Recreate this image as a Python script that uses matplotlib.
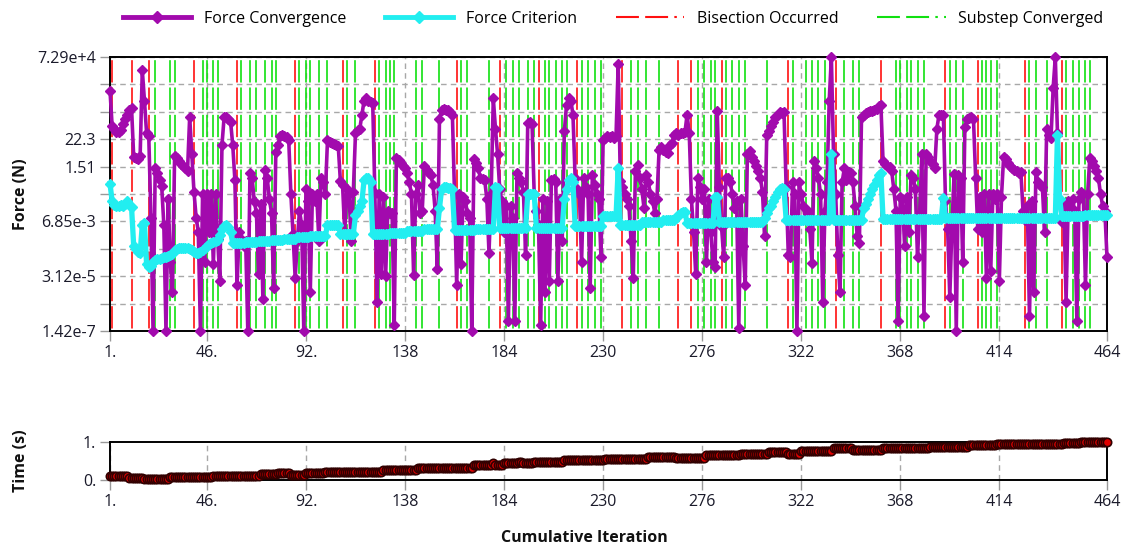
import numpy as np
import matplotlib
matplotlib.use("Agg")
import matplotlib.pyplot as plt
from matplotlib.lines import Line2D

# ---------------- data ----------------
x_ticks = [1, 46, 92, 138, 184, 230, 276, 322, 368, 414, 464]
x_tick_labels = ["1.", "46.", "92.", "138", "184", "230", "276", "322", "368", "414", "464"]
force_top = 7.29e4
force_bottom = 1.42e-7
force_tick_labels = ["7.29e+4", "", "", "22.3", "1.51", "", "6.85e-3", "", "3.12e-5", "", "1.42e-7"]
time_ticks = [0, 1]
time_tick_labels = ["0.", "1."]

# log10 of the force convergence value at each cumulative iteration (1..464)
force_convergence_log = [
    3.43, 1.9, 1.8, 1.65, 1.65, 1.75, 2.0, 2.2, 2.4, 2.6,
    2.7, 0.6, 0.55, 0.5, 0.65, 4.3, 3.0, 1.6, 1.5, -2.0,
    -6.85, 0.1, -0.1, -0.4, -0.65, -2.3, -6.85, -1.2, -3.9, -5.2,
    0.65, 0.55, 0.4, 0.3, 0.2, 0.1, 0.0, 2.3, 0.7, -0.9,
    -2.0, -2.6, -6.85, -1.0, -3.9, -1.0, -2.6, -1.0, -4.0, -1.0,
    -2.9, -4.7, 1.1, 2.3, 2.3, 2.2, 2.1, 1.1, -0.4, -4.9,
    -2.6, -2.9, -3.2, -3.0, -6.85, -0.1, -0.3, -1.3, -1.8, -4.4,
    -1.4, -5.5, 0.05, -0.3, -1.2, -1.8, -5.0, 0.8, 1.1, 1.5,
    1.55, 1.5, 1.45, 1.3, -1.0, -2.7, -4.6, -3.0, -1.7, -2.3,
    -6.85, -0.8, -1.3, -5.2, -1.0, -1.3, -1.0, -3.0, -0.3, -0.5,
    -1.0, 1.3, 1.25, 1.2, 1.15, 1.1, 1.05, -0.45, -0.6, -2.6,
    -0.8, -1.0, -3.0, -0.9, 1.6, 1.75, 1.8, 2.4, 3.0, 3.1,
    3.0, 2.95, 2.9, -0.95, -5.6, -1.0, -4.4, -1.1, -4.5, -1.7,
    -1.8, -1.8, -6.6, 0.55, 0.45, 0.35, 0.2, 0.1, -0.1, -0.5,
    -1.0, -4.45, -1.0, -0.6, -1.8, -1.7, 0.2, 0.05, -0.1, -0.2,
    -0.6, -1.7, -4.2, 2.2, 2.6, 2.65, 2.6, 2.6, 2.5, 2.4,
    -1.0, -4.9, -1.0, -4.0, -1.1, -1.3, -1.8, -2.0, -6.85, 0.5,
    0.35, 0.1, -0.3, -0.35, -0.4, -1.2, -3.5, -1.0, 3.1, 1.8,
    0.7, -0.8, -1.3, -2.6, -1.5, -6.4, -1.5, -2.0, -6.4, -0.1,
    -0.3, -0.5, -0.9, -3.6, 2.05, 2.1, 2.0, -1.0, -1.7, -2.3,
    -6.6, -1.2, -5.2, -1.3, -4.7, -0.4, -0.35, -0.5, -4.7, -1.2,
    -3.0, 1.7, 2.8, 3.1, 3.0, 2.4, -0.3, -0.8, -1.0, -3.9,
    -0.3, -0.7, -1.0, -5.0, -0.2, -0.6, -1.0, -1.2, -3.7, 1.3,
    1.4, 1.5, 1.45, 1.5, 1.4, 1.5, 4.55, -0.45, -0.7, -1.0,
    -1.2, -1.5, -3.0, -4.6, 0.0, 0.26, -0.3, -0.8, -1.6, -0.2,
    -0.5, -1.0, -1.3, -1.8, -1.2, 0.9, 1.0, 0.9, 0.8, 0.75,
    1.1, 1.2, 1.55, 1.6, 1.55, 1.6, 1.6, 1.65, 2.4, 1.6,
    -1.2, -2.6, -4.4, -0.3, -0.7, -1.2, -0.8, -3.9, -1.2, -2.6,
    -3.9, -4.1, 2.55, -0.7, -2.4, -3.7, -0.3, -0.3, -0.5, -1.0,
    -1.6, -1.3, -6.7, -1.2, -3.2, -4.9, 0.7, 0.85, 0.6, 0.4,
    0.2, 0.0, -0.3, -0.9, -2.8, 1.55, 1.7, 1.9, 2.1, 2.3,
    2.4, 2.5, 2.45, 2.5, -0.7, -3.6, -3.7, -0.5, -1.0, -6.85,
    -0.5, -1.0, -1.5, -2.1, -1.7, -2.5, -3.95, 0.4, 0.1, -0.3,
    -1.0, -5.6, -1.7, -0.5, 3.0, 4.86, 0.7, -1.0, -3.6, -5.2,
    -0.5, 0.1, -0.4, -0.05, -0.1, -0.5, -1.5, -2.8, -3.1, 2.3,
    2.4, 2.45, 2.5, 2.55, 2.55, 2.6, 2.65, 2.75, 2.8, 0.4,
    0.3, 0.2, 0.15, 0.0, -0.8, -1.7, -6.4, -1.1, -1.2, -3.2,
    -1.1, -2.6, -0.2, -0.3, -0.8, -3.7, -1.8, 0.7, -6.2, 0.7,
    0.6, 0.4, 0.3, 0.1, 1.8, 2.4, 2.4, 2.4, -1.3, -2.5,
    -5.4, -2.3, -0.15, -6.85, -0.2, -0.3, -3.9, 1.85, 2.2, 2.25,
    2.3, 2.2, -0.3, -2.5, -1.1, -2.6, -1.0, -4.6, -1.0, -4.3,
    -1.0, -1.2, -1.0, -4.7, -1.1, 0.6, 0.5, 0.35, 0.2, 0.1,
    0.05, 0.0, -0.1, -0.05, -1.7, -2.1, -1.5, -6.2, -1.3, -5.2,
    -0.05, -0.5, -0.6, -0.7, -2.6, 1.8, 1.55, 1.4, 3.55, 4.86,
    1.6, -1.3, -2.2, -1.5, -5.6, -1.3, -1.8, -1.2, -1.7, -6.4,
    -1.2, -0.9, -1.0, -4.9, -1.0, 0.55, 0.4, 0.2, 0.0, -0.3,
    -1.0, -1.5, -1.7, -3.7,
]

# log10 of the force criterion at each cumulative iteration
force_criterion_log = (
    [-0.55]
    + [-1.3, -1.45, -1.5, -1.5, -1.45, -1.5, -1.4, -1.3, -1.45, -1.55]
    + [-3.2, -3.35, -3.45, -3.5, -2.3, -2.25]
    + [-4.0, -4.1, -4.05, -3.9]
    + [-3.8, -3.78, -3.75, -3.72, -3.7, -3.68, -3.65, -3.6, -3.55]
    + [-3.4, -3.35, -3.3, -3.3, -3.28, -3.3, -3.32, -3.35, -3.4, -3.45, -3.5, -3.5]
    + [-3.45, -3.4, -3.3, -3.2, -3.15, -3.1, -3.05, -3.0, -2.95]
    + [-2.75, -2.5, -2.35, -2.3, -2.4, -2.6]
    + [-3.1] * 6 + [-3.05] * 6 + [-3.0] * 6 + [-2.95] * 6 + [-2.9] * 6 + [-2.85] * 6
    + [-2.8] * 8
    + [-2.3] * 6
    + [-2.7] * 7
    + [-1.9, -1.7, -1.5, -1.3]
    + [-0.4, -0.3, -0.3, -0.5]
    + [-2.72] * 8 + [-2.65] * 8 + [-2.58] * 8 + [-2.5] * 7
    + [-1.6, -0.8, -0.7, -0.7, -0.72, -0.75, -0.8]
    + [-2.52] * 10 + [-2.48] * 9
    + [-0.7, -0.75]
    + [-2.45] * 13
    + [-1.0] * 4
    + [-2.45] * 13
    + [-1.2, -0.8, -0.4, -0.3, -0.5]
    + [-2.35] * 13
    + [-1.95] * 7
    + [0.12]
    + [-2.3] * 10 + [-2.2] * 10 + [-2.1] * 6 + [-2.0, -1.9, -1.8, -1.75, -1.75]
    + [-2.25] * 13
    + [-1.1, -1.1]
    + [-2.2] * 21
    + [-2.0, -1.8, -1.6, -1.5, -1.3, -1.1, -0.9, -0.8, -0.75, -0.8]
    + [-2.1] * 21
    + [0.7]
    + [-2.1] * 14
    + [-1.6, -1.4, -1.2, -1.0, -0.8, -0.6, -0.4, -0.2, -0.1]
    + [-2.05] * 28
    + [-1.17]
    + [-2.0] * 52
    + [1.55]
    + [-1.2]
    + [-1.95] * 11 + [-1.9] * 11
)

# time (s): (value, number of consecutive iterations at that value)
time_runs = [
    (0.10, 9), (0.045, 7), (0.015, 12), (0.07, 20), (0.10, 22), (0.16, 8),
    (0.19, 6), (0.13, 7), (0.19, 9), (0.22, 27), (0.26, 16), (0.32, 26),
    (0.39, 9), (0.43, 1), (0.39, 4), (0.45, 7), (0.48, 2), (0.43, 5),
    (0.48, 14), (0.51, 19), (0.55, 20), (0.61, 13), (0.58, 14), (0.64, 16),
    (0.68, 13), (0.72, 9), (0.68, 6), (0.75, 15), (0.82, 9), (0.78, 14),
    (0.82, 22), (0.86, 18), (0.92, 13), (0.93, 31), (0.96, 8), (1.0, 13),
]

bisection_iters = [2, 11, 19, 40, 60, 87, 109, 124, 162, 182, 200, 218, 239,
                   265, 271, 285, 316, 338, 359, 389, 404, 426, 443]
substep_iters = [22, 29, 31, 44, 46, 49, 51, 62, 66, 69, 73, 76, 78, 89, 92,
                 94, 98, 102, 111, 115, 126, 129, 131, 133, 143, 146, 154, 164,
                 167, 177, 185, 188, 191, 195, 198, 203, 205, 208, 211, 213,
                 220, 223, 226, 229, 243, 246, 250, 256, 274, 277, 280, 282,
                 287, 290, 293, 296, 306, 318, 324, 327, 330, 333, 342, 346,
                 349, 366, 368, 371, 373, 376, 379, 391, 394, 397, 406, 408,
                 410, 413, 428, 431, 436, 445, 448, 451, 454, 456]

# ---------------- style ----------------
plt.rcParams['font.family'] = ['Open Sans', 'DejaVu Sans']
PURPLE = '#a20aad'
CYAN = '#22eef0'
RED = '#ff1010'
GREEN = '#10e010'
GRID = '#a8a8a8'
TXT = '#1a1a2a'
vdash_plot = (14.9, (13.4, 3.0))
vdash_legend = (0, (11, 3.0, 11, 3.0, 1.2, 3.0))

fig = plt.figure(figsize=(11.25, 5.5), dpi=100)
W, H = 1125, 550
ax = fig.add_axes([110 / W, 1 - 331 / H, 997 / W, 274 / H])
axt = fig.add_axes([110 / W, 1 - 480 / H, 997 / W, 38.5 / H])

conv = 10.0 ** np.array(force_convergence_log)
crit = 10.0 ** np.array(force_criterion_log)
it_conv = np.arange(1, len(conv) + 1)
it_crit = np.arange(1, len(crit) + 1)

time_vals = []
for v, n in time_runs:
    time_vals += [v] * n
time_vals = np.array(time_vals)
it_time = np.arange(1, len(time_vals) + 1)

# main axes
ax.set_yscale('log')
ax.set_xlim(1, 464)
ax.set_ylim(force_bottom, force_top)
yt = np.logspace(np.log10(force_top), np.log10(force_bottom), len(force_tick_labels))
ax.set_yticks(yt)
ax.set_yticklabels(force_tick_labels)
ax.yaxis.set_minor_locator(matplotlib.ticker.NullLocator())
ax.set_xticks(x_ticks)
ax.set_xticklabels(x_tick_labels)

for xv in bisection_iters:
    ax.axvline(xv, color=RED, lw=1.2, linestyle=vdash_plot, zorder=1.6)
for xv in substep_iters:
    ax.axvline(xv, color=GREEN, lw=1.2, linestyle=vdash_plot, zorder=1.5)

ax.plot(it_conv, conv, color=PURPLE, lw=2.6, marker='D', ms=4.6, mec=PURPLE,
        zorder=3, clip_on=False)
ax.plot(it_crit, crit, color=CYAN, lw=3.8, marker='D', ms=5, mec=CYAN,
        zorder=4, clip_on=False)

ax.grid(True, which='major', color=GRID, linestyle=(0, (4, 3)), lw=1)
ax.set_axisbelow(True)

# time axes
axt.set_xlim(1, 464)
axt.set_ylim(0, 1)
axt.set_yticks(time_ticks)
axt.set_yticklabels(time_tick_labels)
axt.set_xticks(x_ticks)
axt.set_xticklabels(x_tick_labels)
axt.grid(True, axis='x', color=GRID, linestyle=(0, (4, 3)), lw=1)
axt.set_axisbelow(True)
axt.plot(it_time, time_vals, color='#2a0000', lw=2, marker='o', ms=6,
         mfc='#e00000', mec='#300000', mew=1.2, zorder=3, clip_on=False)

for a in (ax, axt):
    for s in a.spines.values():
        s.set_color('black')
        s.set_linewidth(1.4)
    a.tick_params(axis='both', which='major', color='#999999', length=7,
                  width=1, labelsize=11.5, labelcolor=TXT, pad=3)

ax.set_ylabel('Force (N)', fontsize=11.5, fontweight='bold', color='#111111')
ax.yaxis.set_label_coords(-0.081, 0.5)
axt.set_ylabel('Time (s)', fontsize=11.5, fontweight='bold', color='#111111')
axt.yaxis.set_label_coords(-0.081, 0.5)
fig.text(584 / W, 1 - 538 / H, 'Cumulative Iteration', fontsize=11.5,
         fontweight='bold', color='#111111', ha='center', va='center')

handles = [
    Line2D([], [], color=PURPLE, lw=3.5, marker='D', ms=6.5),
    Line2D([], [], color=CYAN, lw=3.5, marker='D', ms=6.5),
    Line2D([], [], color=RED, lw=1.5, linestyle=vdash_legend),
    Line2D([], [], color=GREEN, lw=1.5, linestyle=vdash_legend),
]
labels = ['Force Convergence', 'Force Criterion', 'Bisection Occurred', 'Substep Converged']
fig.legend(handles, labels, loc='center', bbox_to_anchor=(0.545, 1 - 19 / H),
           ncol=4, frameon=False, fontsize=11.5, handlelength=4.3,
           columnspacing=2.4, handletextpad=0.8, numpoints=1)

fig.savefig('out.png', dpi=100)
